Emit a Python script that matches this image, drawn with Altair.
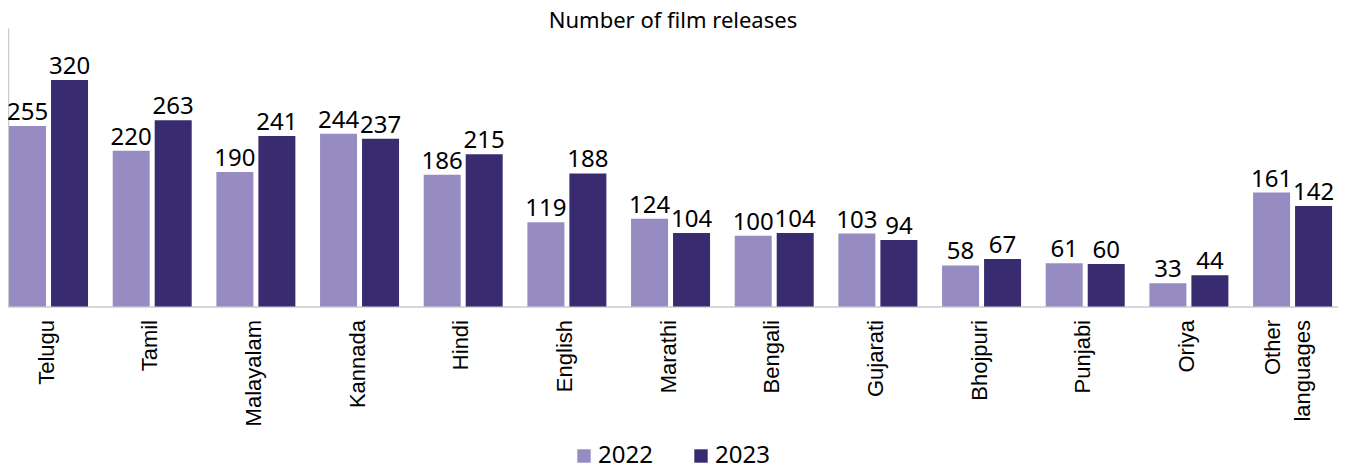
import altair as alt
import pandas as pd

languages = ["Telugu", "Tamil", "Malayalam", "Kannada", "Hindi", "English", "Marathi",
             "Bengali", "Gujarati", "Bhojpuri", "Punjabi", "Oriya", "Other languages"]
releases_2022 = [255, 220, 190, 244, 186, 119, 124, 100, 103, 58, 61, 33, 161]
releases_2023 = [320, 263, 241, 237, 215, 188, 104, 104, 94, 67, 60, 44, 142]
years = ["2022", "2023"]
colors = ["#968CC2", "#392B70"]

rows = []
for lang, a, b in zip(languages, releases_2022, releases_2023):
    rows.append({"language": lang, "year": years[0], "value": a})
    rows.append({"language": lang, "year": years[1], "value": b})
df = pd.DataFrame(rows)

x = alt.X("language:N", sort=languages, title=None,
          scale=alt.Scale(range=[-11.3, 1336.4], paddingInner=0.238, paddingOuter=0.119),
          axis=alt.Axis(labelAngle=-90, labelFont="Liberation Sans", labelFontSize=22,
                        labelColor="#000000", labelPadding=13, ticks=False,
                        domainColor="#C8CCD0", domainWidth=1.5, labelLineHeight=30,
                        labelOffset={"condition": {"test": "datum.label == 'Other languages'", "value": -20},
                                     "value": -2},
                        labelExpr="datum.label == 'Other languages' ? ['Other', 'languages'] : datum.label"))
y = alt.Y("value:Q", title=None, scale=alt.Scale(domain=[0, 393.5], nice=False, zero=True),
          axis=alt.Axis(labels=False, ticks=False, grid=False, domainColor="#C8CCD0", domainWidth=1.5))
xoff = alt.XOffset("year:N", scale=alt.Scale(paddingInner=0.119, paddingOuter=0))

base = alt.Chart(df).encode(x=x, xOffset=xoff)

bars = base.mark_bar().encode(
    y=y,
    color=alt.Color("year:N", scale=alt.Scale(domain=years, range=colors),
                    legend=alt.Legend(title=None, orient="none", direction="horizontal",
                                      legendX=564, legendY=416, symbolType="square",
                                      symbolSize=180, symbolStrokeWidth=0, labelFont="Noto Sans",
                                      labelFontSize=24, labelColor="#000000", columnPadding=36,
                                      labelOffset=2, padding=0)),
)
labels = base.mark_text(font="Noto Sans", fontSize=24, color="#000000",
                        baseline="alphabetic", dy=-6).encode(
    y=alt.Y("value:Q"), text="value:Q")

chart = alt.layer(bars, labels).properties(
    width=1330, height=278.5,
    title=alt.TitleParams("Number of film releases", font="Noto Sans", fontSize=22,
                          fontWeight="normal", color="#000000", anchor="middle", offset=-5),
    autosize=alt.AutoSizeParams(type="none"),
    padding={"left": 0, "top": 20, "right": 0, "bottom": 160},
).configure_view(stroke=None)

chart.save("out.html", embed_options={"renderer": "svg", "actions": False})
